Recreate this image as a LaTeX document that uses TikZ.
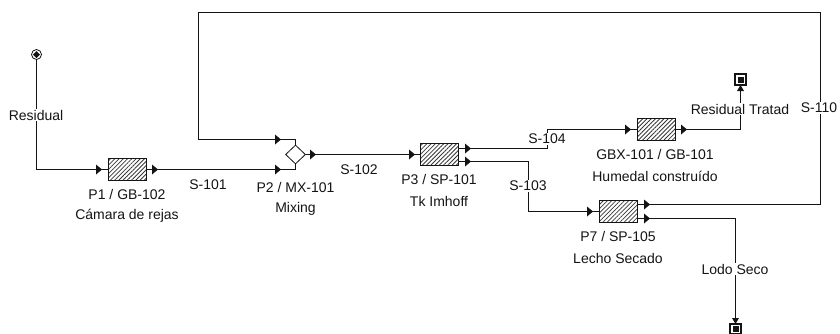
\documentclass[tikz,border=0pt]{standalone}
\usepackage{fontspec}
\setmainfont{Liberation Sans}
\usetikzlibrary{patterns.meta,shapes.geometric,positioning,calc}
\definecolor{ink}{HTML}{141414}
\tikzset{
  x=1pt,y=-1pt,
  conn/.style={draw=ink,line width=1.1pt},
  unitbox/.style={draw=ink,line width=1.1pt,minimum width=38pt,minimum height=22pt,inner sep=0pt,anchor=center,
    pattern={Lines[angle=45,distance=3pt,line width=.8pt]},pattern color=ink!85},
  mixer/.style={draw=ink,line width=.8pt,diamond,fill=white,minimum width=20pt,minimum height=19pt,inner sep=0pt},
  source/.style={draw=ink,line width=.8pt,circle,minimum size=10pt,inner sep=0pt},
  sinkbox/.style={draw=ink,line width=1.6pt,fill=white,minimum size=10.5pt,inner sep=0pt},
  lab/.style={fill=white,inner sep=1pt,text=ink,font=\fontsize{14}{15}\selectfont,anchor=center},
  tipmark/.style={fill=ink,draw=none}
}
\newcommand{\tipR}[2]{\fill[tipmark] (#1-3,#2-5) -- (#1+3,#2) -- (#1-3,#2+5) -- cycle;}
\newcommand{\tipU}[2]{\fill[tipmark] (#1-3.5,#2+3) -- (#1,#2-3) -- (#1+3.5,#2+3) -- cycle;}
\newcommand{\tipD}[2]{\fill[tipmark] (#1-3.5,#2-3) -- (#1,#2+3) -- (#1+3.5,#2-3) -- cycle;}
\begin{document}
\begin{tikzpicture}
\useasboundingbox (0,0) rectangle (840,333);
% equipment
\node[source] (src) at (36.5,54.5) {};
\fill[ink] (36.5,51) -- (40,54.5) -- (36.5,58) -- (33,54.5) -- cycle;
\node[unitbox] (p1) at (127.5,169.5) {};
\node[mixer] (p2) at (295.5,154.5) {};
\node[unitbox] (p3) at (439.5,154.5) {};
\node[unitbox] (gbx) at (656.5,129.5) {};
\node[unitbox] (p7) at (618.5,211.5) {};
\node[sinkbox] (sinkA) at (740.5,79.5) {};
\fill[ink] (737.5,76.5) rectangle (743.5,82.5);
\node[sinkbox] (sinkB) at (735.5,329) {};
\fill[ink] (732.5,326) rectangle (738.5,332);
% connectors
\draw[conn] (src.south) |- (p1.west);
\draw[conn] (p1.east) -- (278.5,169.5) -| (p2.south);
\coordinate (p7top) at (p7.east |- 0,204.5);
\coordinate (p7bot) at (p7.east |- 0,218.5);
\coordinate (p3top) at (p3.east |- 0,148.5);
\coordinate (p3bot) at (p3.east |- 0,161.5);
\draw[conn] (p7top) -- (820.5,204.5) -- (820.5,12.5) -- (198.5,12.5) -- (198.5,139.5) -| (p2.north);
\draw[conn] (p2.east) -- (p3.west);
\draw[conn] (p3top) -- (547.5,148.5) -- (547.5,129.5) -- (gbx.west);
\draw[conn] (p3bot) -- (528.5,161.5) -- (528.5,211.5) -- (p7.west);
\draw[conn] (gbx.east) -| (sinkA.south);
\draw[conn] (p7bot) -| (sinkB.north);
% arrowheads
\tipR{99}{169.5}\tipR{155}{169.5}\tipR{278}{169.5}\tipR{278}{139.5}
\tipR{313}{154.5}\tipR{412}{154.5}\tipR{468}{148.5}\tipR{468}{161.5}
\tipR{628}{129.5}\tipR{684}{129.5}\tipR{590}{211.5}\tipR{647}{204.5}\tipR{647}{218.5}
\tipU{740.5}{88}\tipD{735.5}{321}
% labels
\node[lab] (l1) at (36,115) {Residual};
\node[lab] (l2) at (127,194) {P1 / GB-102};
\node[lab] (l3) at (127,216) {Cámara de rejas};
\node[lab] (l4) at (208,185) {S-101};
\node[lab] (l5) at (295.5,187) {P2 / MX-101};
\node[lab] (l6) at (295.5,209) {Mixing};
\node[lab] (l7) at (359,170) {S-102};
\node[lab] (l8) at (439,179) {P3 / SP-101};
\node[lab] (l9) at (439,201) {Tk Imhoff};
\node[lab] (l10) at (547,139) {S-104};
\node[lab] (l11) at (528,186) {S-103};
\node[lab] (l12) at (655,154) {GBX-101 / GB-101};
\node[lab] (l13) at (655,176) {Humedal construído};
\node[lab] (l14) at (740,109) {Residual Tratad};
\node[lab] (l15) at (819,108) {S-110};
\node[lab] (l16) at (618,236) {P7 / SP-105};
\node[lab] (l17) at (618,258) {Lecho Secado};
\node[lab] (l18) at (735,269) {Lodo Seco};
\end{tikzpicture}
\end{document}
